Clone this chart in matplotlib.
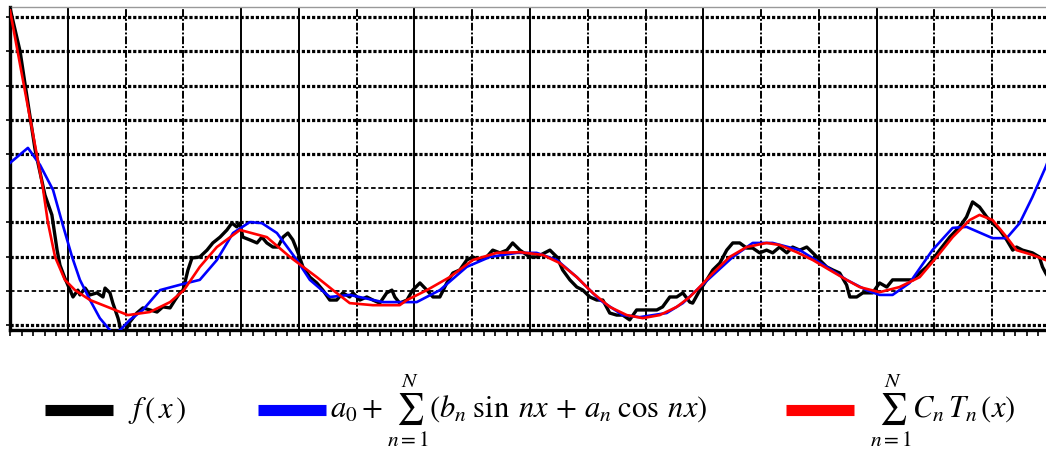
import matplotlib
matplotlib.use("Agg")
import matplotlib.pyplot as plt
from matplotlib.lines import Line2D
import numpy as np

plt.rcParams['mathtext.fontset'] = 'stix'

# ---- data (x in degrees, y in grid units) ----
f_x = [0, 3.5, 5.2, 8.7, 12.1, 14.5, 16.3, 17.3, 19.0, 20.8, 21.8, 23.5, 24.2, 26.0, 27.7, 30.1,
       32.2, 32.9, 34.6, 35.6, 37.4, 38.4, 40.1, 41.5, 43.9, 46.0, 48.4, 50.9, 52.9, 55.4, 57.1,
       58.8, 59.9, 61.6, 63.0, 65.7, 68.2, 70.2, 72.7, 75.1, 76.8, 78.5, 79.6, 80.6, 83.0, 85.5,
       87.2, 88.9, 91.0, 92.7, 94.5, 96.2, 97.9, 99.7, 101.4, 103.8, 106.2, 108.3, 110.7, 113.1,
       115.2, 117.6, 118.7, 121.1, 123.5, 125.6, 128.0, 130.4, 132.2, 133.2, 134.9, 137.4, 139.4,
       141.9, 144.3, 146.4, 148.8, 151.2, 153.3, 155.7, 158.1, 160.2, 162.6, 165.0, 167.1, 169.6,
       172.0, 174.0, 176.5, 179.9, 182.3, 186.9, 189.3, 191.3, 193.8, 196.2, 198.3, 200.7, 203.1,
       205.2, 207.6, 210.0, 212.1, 214.5, 216.9, 219.0, 221.5, 223.9, 225.9, 228.4, 230.8, 232.9,
       235.3, 236.3, 238.8, 241.2, 243.3, 245.7, 248.1, 250.2, 252.6, 255.0, 257.1, 259.5, 261.9,
       264.0, 266.4, 268.9, 270.9, 273.4, 275.8, 277.9, 280.3, 282.7, 284.8, 287.2, 289.6, 290.7,
       293.1, 295.2, 296.5, 298.6, 301.0, 303.5, 305.5, 310.4, 312.5, 314.9, 317.3, 319.3, 321.8,
       325.3, 328.7, 331.1, 333.2, 335.6, 338.1, 340.1, 342.6, 345.0, 347.1, 348.4, 350.5, 353.9,
       356.3, 357.4, 358.5, 360.0]
f_y = [9.27, 8.00, 7.05, 5.12, 3.80, 3.22, 2.19, 1.75, 1.37, 1.02, 0.82, 1.02, 0.88, 1.08, 0.88, 0.94,
       0.82, 1.08, 0.94, 0.64, 0.20, -0.15, -0.15, 0.09, 0.35, 0.50, 0.44, 0.38, 0.53, 0.50, 0.73,
       0.94, 1.02, 1.61, 1.96, 1.99, 2.19, 2.40, 2.57, 2.78, 2.98, 2.87, 2.98, 2.57, 2.49, 2.40,
       2.57, 2.40, 2.28, 2.28, 2.57, 2.69, 2.49, 2.11, 1.70, 1.40, 1.23, 1.02, 0.73, 0.73,
       0.94, 0.82, 0.94, 0.73, 0.82, 0.73, 0.64, 0.94, 1.02, 0.82, 0.64, 0.73, 1.02,
       1.23, 1.02, 0.82, 0.82, 1.23, 1.52, 1.61, 1.90, 1.99, 1.90, 1.99, 2.19, 2.11,
       2.19, 2.40, 2.19, 1.99, 1.99, 2.19, 1.99, 1.61, 1.32, 1.11, 1.02, 0.82, 0.73,
       0.73, 0.35, 0.29, 0.29, 0.15, 0.44, 0.44, 0.44, 0.44, 0.53, 0.82, 0.82, 0.94,
       0.67, 0.64, 1.02, 1.32, 1.61, 1.81, 2.19, 2.40, 2.40, 2.25, 2.25, 2.11, 2.19,
       2.11, 2.28, 2.11, 2.28, 2.19, 2.28, 2.11, 1.90, 1.70, 1.61, 1.52, 1.17, 0.82,
       0.82, 0.94, 0.94, 0.94, 1.23, 1.11, 1.32, 1.32, 1.32, 1.52, 1.70, 1.90, 2.19,
       2.57, 2.87, 3.16, 3.60, 3.45, 3.16, 2.98, 2.78, 2.49, 2.19, 2.28, 2.19, 2.11,
       1.99, 1.70, 1.52, 1.32]

fourier_x = [0, 6.2, 10.4, 14.9, 18.3, 21.5, 24.2, 27.7, 31.1, 34.6, 35.6, 38.1, 41.5, 46.0, 51.9,
             59.9, 65.7, 71.6, 77.2, 83.0, 87.2, 92.4, 99.3, 103.8, 110.7, 117.6, 129.1, 140.8,
             148.8, 158.1, 166.1, 175.4, 182.3, 189.3, 196.2, 204.2, 212.1, 218.0, 227.3, 232.9,
             238.8, 250.2, 257.1, 264.0, 273.4, 282.7, 289.6, 296.5, 301.0, 305.5, 311.4, 319.3,
             326.3, 331.1, 340.1, 345.0, 349.5, 353.9, 358.5, 360.0]
fourier_y = [4.74, 5.18, 4.68, 3.95, 2.92, 1.99, 1.32, 0.73, 0.20, -0.15, -0.26, -0.15, 0.15, 0.44, 1.02,
             1.20, 1.32, 1.90, 2.69, 3.01, 2.98, 2.69, 1.90, 1.32, 0.82, 0.88, 0.67, 0.67,
             1.02, 1.70, 1.99, 2.11, 2.11, 1.90, 1.40, 0.73, 0.29, 0.23, 0.35, 0.64,
             1.11, 1.99, 2.40, 2.40, 2.19, 1.70, 1.32, 1.02, 0.88, 0.88, 1.23, 2.19,
             2.84, 2.87, 2.54, 2.54, 2.98, 3.74, 4.62, 4.95]

cheb_x = [0, 9.3, 11.4, 13.1, 15.6, 19.0, 22.5, 27.7, 34.6, 40.8, 48.4, 55.4, 60.2, 65.7, 71.6, 79.6,
          88.9, 96.9, 106.2, 111.8, 117.6, 125.6, 134.9, 137.4, 144.3, 152.2, 160.2, 168.5, 176.5,
          184.4, 190.3, 196.2, 201.7, 207.6, 213.5, 219.0, 224.9, 230.8, 235.3, 237.7, 243.3, 249.1,
          255.0, 261.9, 266.4, 272.3, 277.9, 283.7, 289.6, 294.1, 301.0, 307.9, 314.9, 320.8, 326.3,
          332.2, 335.6, 340.1, 345.0, 348.4, 353.9, 358.5, 360.0]
cheb_y = [9.2, 4.97, 4.0, 3.01, 1.99, 1.32, 1.02, 0.73, 0.50, 0.29, 0.38, 0.67, 1.02, 1.70, 2.28, 2.78,
          2.57, 1.99, 1.40, 1.02, 0.64, 0.58, 0.58, 0.73, 1.02, 1.40, 1.90, 2.11, 2.13,
          2.05, 1.81, 1.40, 0.94, 0.53, 0.29, 0.20, 0.29, 0.53, 0.82, 1.02, 1.52, 1.99,
          2.28, 2.40, 2.34, 2.13, 1.90, 1.61, 1.32, 1.11, 0.96, 1.11, 1.40, 1.99, 2.57,
          3.07, 3.22, 3.07, 2.57, 2.19, 2.05, 1.90, 1.85]

legend_labels = [r"$f\,(\,x\,)$",
                 r"$a_0+\sum_{n=1}^{N}\left(b_n\;\sin\;nx\,+\,a_n\;\cos\;nx\right)$",
                 r"$\sum_{n=1}^{N}C_n\,T_n\,(x)$"]
series_colors = ["#000000", "#0000FF", "#FF0000"]

# ---- figure ----
W, H = 1046, 453
fig = plt.figure(figsize=(W / 100, H / 100), dpi=100)
ax = fig.add_axes([10 / W, (H - 330) / H, 1040 / W, 323 / H])
ax.set_xlim(0, 360)
ax.set_ylim(-0.146, 9.30)

# grid
dd = (0, (4, 1, 1, 1))
v_styles = ['-', dd, dd, '-', '-', dd, '-', dd, '-', dd, dd, '-', dd, dd, '-', dd, dd, '-']
for i, xv in enumerate(range(20, 360, 20)):
    ax.axvline(xv, color='black', lw=1.4, ls=v_styles[i % len(v_styles)], zorder=1)
for yv in range(0, 10):
    if yv in (1, 4):
        ax.axhline(yv, color='black', lw=1.3, ls=(0, (2.5, 1.5)), zorder=1)
    else:
        ax.axhline(yv, color='black', lw=2.3, ls=(0, (1, 0.6)), zorder=1)

# curves
ax.plot(f_x, f_y, color=series_colors[0], lw=2.4, zorder=3)
ax.plot(fourier_x, fourier_y, color=series_colors[1], lw=1.9, zorder=4)
ax.plot(cheb_x, cheb_y, color=series_colors[2], lw=1.9, zorder=5)

# spines & ticks
for s in ('left', 'bottom'):
    ax.spines[s].set_linewidth(2.4)
    ax.spines[s].set_color('black')
ax.spines['top'].set_color('#999999')
ax.spines['top'].set_linewidth(1.0)
ax.spines['right'].set_visible(False)
ax.set_xticks(np.arange(0, 361, 20))
ax.set_xticks(np.arange(0, 361, 4), minor=True)
ax.set_yticks(np.arange(0, 10, 1))
ax.tick_params(axis='x', which='both', direction='out', length=4, width=1.2,
               labelbottom=False)
ax.tick_params(axis='y', which='both', direction='out', length=3, width=1.2,
               labelleft=False)

# legend (manual, figure coordinates)
leg_y = 1 - 410 / H
handle_x = [(45, 113), (258, 326), (786, 854)]
text_x = [128, 330, 870]
for (x0, x1), tx, lab, col in zip(handle_x, text_x, legend_labels, series_colors):
    fig.add_artist(Line2D([x0 / W, x1 / W], [leg_y, leg_y], transform=fig.transFigure,
                          color=col, lw=8, solid_capstyle='butt'))
    fig.text(tx / W, leg_y, lab, fontsize=22, va='center', ha='left')

fig.savefig("out.png", dpi=100)
